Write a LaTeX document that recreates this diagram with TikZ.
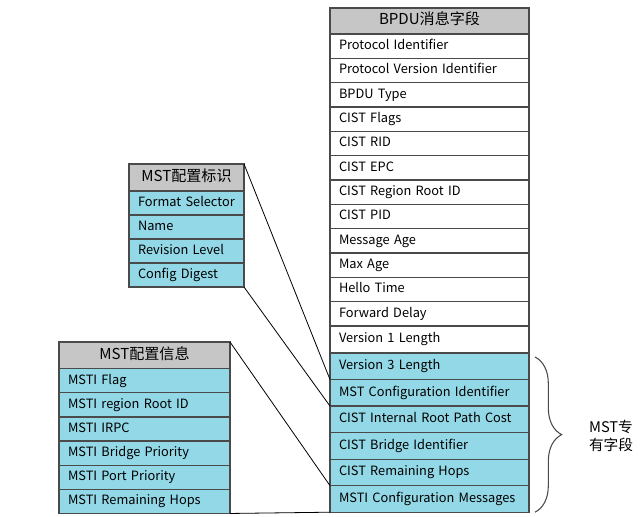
\documentclass[tikz,border=0pt]{standalone}
\usepackage{fontspec}
\setmainfont{Noto Sans CJK SC}
\usetikzlibrary{positioning,decorations.pathreplacing}
\definecolor{hdrgray}{HTML}{C6C6C6}
\definecolor{mstblue}{HTML}{93D8E6}
\definecolor{rulegray}{HTML}{4A4A4A}

\begin{document}
\begin{tikzpicture}[x=0.75pt,y=-0.75pt,
  field/.style={draw=rulegray, line width=0.9pt, outer sep=0pt, inner xsep=6.75pt,
    inner ysep=0pt, text height=7pt, text depth=2pt, align=left, anchor=north west,
    font=\fontsize{9.6}{11}\selectfont},
  head/.style={field, fill=hdrgray, align=center, text height=8pt, text depth=2pt,
    font=\fontsize{11.3}{13}\selectfont},
  mst/.style={fill=mstblue},
  link/.style={draw=black, line width=0.6pt}]
  \useasboundingbox[fill=white] (0,0) rectangle (640,517);

  % BPDU fields
  \node[head, text width=135.75pt, minimum height=19.5pt] (b0) at (330,8) {BPDU消息字段};
  \foreach \txt [count=\i] in {Protocol Identifier, Protocol Version Identifier, BPDU Type,
    CIST Flags, CIST RID, CIST EPC, CIST Region Root ID, CIST PID, Message Age, Max Age,
    Hello Time, Forward Delay}{
    \pgfmathtruncatemacro\j{\i-1}
    \node[field, text width=135.75pt, minimum height=18.25pt, below=0pt of b\j] (b\i) {\txt};
  }
  \node[field, text width=135.75pt, minimum height=20.25pt, below=0pt of b12] (m0) {Version 1 Length};
  \foreach \txt [count=\i] in {Version 3 Length, MST Configuration Identifier,
    CIST Internal Root Path Cost, CIST Bridge Identifier, CIST Remaining Hops,
    MSTI Configuration Messages}{
    \pgfmathtruncatemacro\j{\i-1}
    \node[field, mst, text width=135.75pt, minimum height=19.9pt, below=0pt of m\j] (m\i) {\txt};
  }

  % MST config identifier
  \node[head, text width=72.75pt, minimum height=20.25pt] (cfg0) at (129,164) {MST配置标识};
  \foreach \txt [count=\i] in {Format Selector, Name, Revision Level, Config Digest}{
    \pgfmathtruncatemacro\j{\i-1}
    \node[field, mst, text width=72.75pt, minimum height=18pt, below=0pt of cfg\j] (cfg\i) {\txt};
  }

  % MST config messages
  \node[head, text width=114.75pt, minimum height=20pt] (info0) at (59,342) {MST配置信息};
  \foreach \txt [count=\i] in {MSTI Flag, MSTI region Root ID, MSTI IRPC,
    MSTI Bridge Priority, MSTI Port Priority, MSTI Remaining Hops}{
    \pgfmathtruncatemacro\j{\i-1}
    \node[field, mst, text width=114.75pt, minimum height=18.1pt, below=0pt of info\j] (info\i) {\txt};
  }

  % links
  \draw[link] (cfg0.north east) -- (m2.north west);
  \draw[link] (cfg4.south east) -- (m2.south west);
  \draw[link] (info0.north east) -- (m6.north west);
  \draw[link] (info6.south east) -- (m6.south west);

  % MST-only part
  \draw[rulegray, line width=0.8pt, decorate, decoration={brace, amplitude=20pt, aspect=0.5}]
    ([shift={(4.5pt,-3pt)}]m1.north east) -- ([xshift=4.5pt]m6.south east);
  \node[font=\fontsize{11}{14}\selectfont, align=center] (mstonly) at (611,436) {MST专\\有字段};
\end{tikzpicture}
\end{document}
